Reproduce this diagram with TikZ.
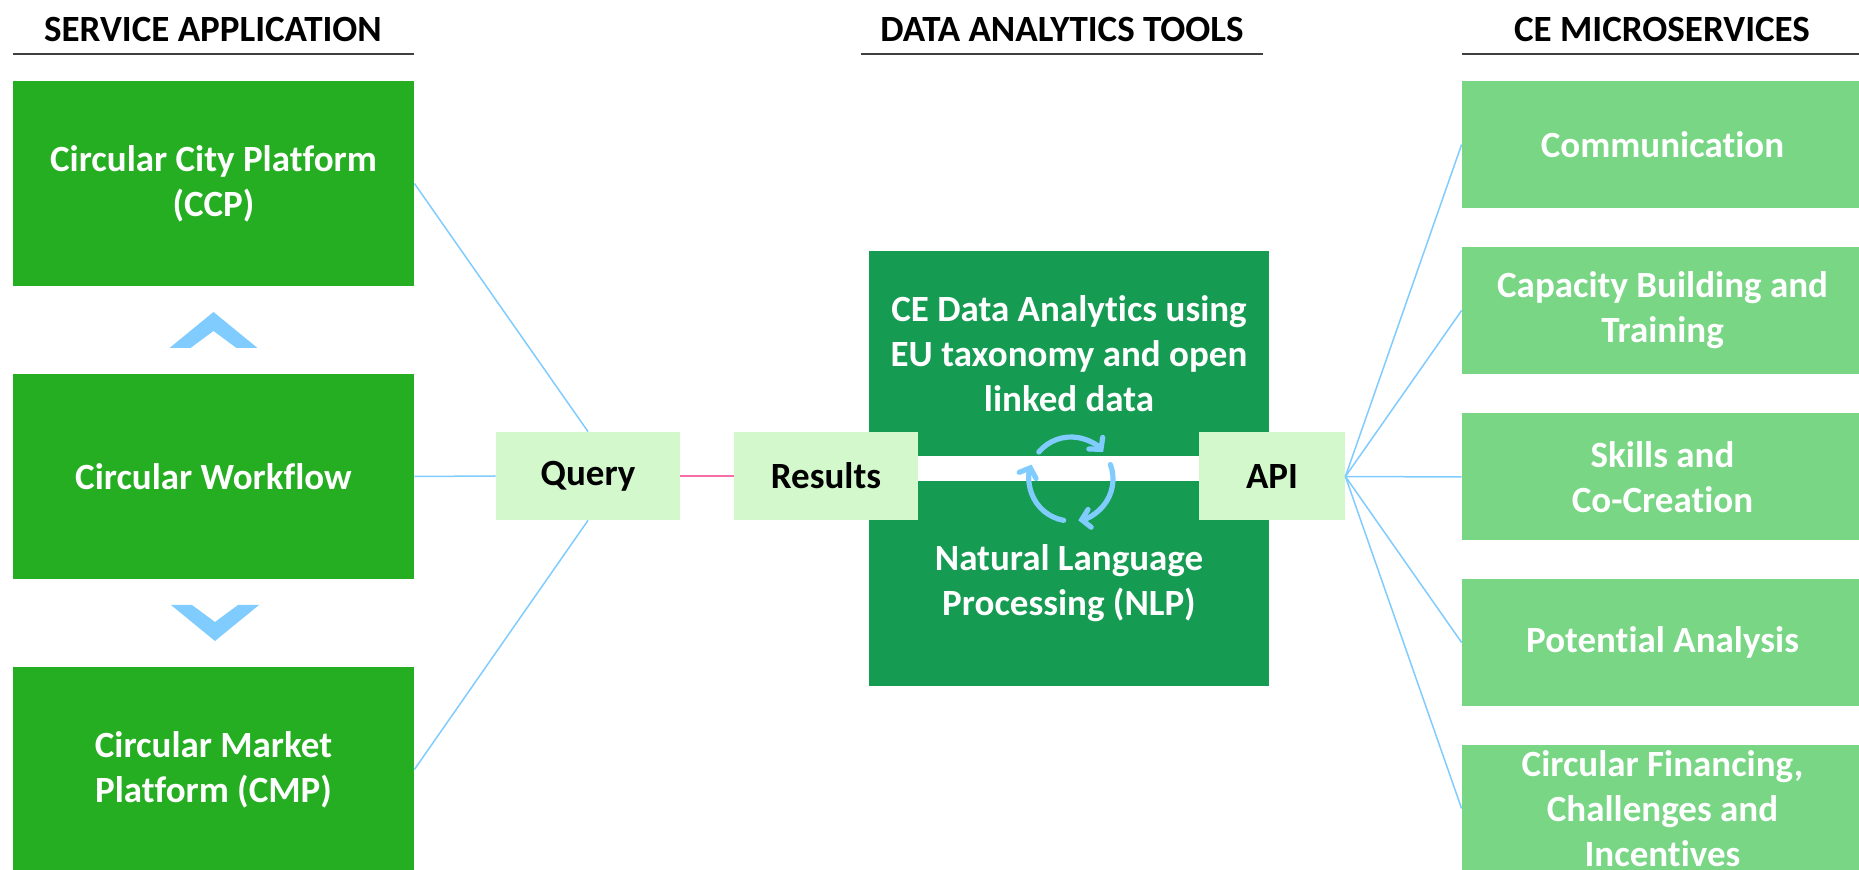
\documentclass[tikz,border=0pt]{standalone}
\usepackage{fontspec}
\setmainfont{Carlito}[Ligatures=NoCommon]
\usetikzlibrary{arrows.meta}
\definecolor{appgreen}{RGB}{37,174,34}
\definecolor{toolgreen}{RGB}{22,155,83}
\definecolor{msgreen}{RGB}{120,214,133}
\definecolor{tagfill}{RGB}{211,248,204}
\definecolor{linkblue}{RGB}{128,204,255}
\definecolor{linkpink}{RGB}{245,110,170}
\definecolor{rulegray}{RGB}{64,64,64}
\newcommand{\boxfont}{\bfseries\fontsize{18.5}{22.5}\selectfont}
\newcommand{\drawchevron}[3] {
  % #1 = tip x, #2 = tip y, #3 = +1 up / -1 down
  \fill[linkblue] (#1-44,#2+36*#3) -- (#1,#2) -- (#1+44,#2+36*#3)
    -- (#1+23,#2+36*#3) -- (#1,#2+19*#3) -- (#1-23,#2+36*#3) -- cycle;
}
\begin{document}
\begin{tikzpicture}[x=0.5pt, y=-0.5pt,
  box/.style={inner sep=0pt, align=center, font=\boxfont, text=white},
  appbox/.style={box, fill=appgreen, minimum width=200.5pt, minimum height=102.5pt},
  toolbox/.style={box, fill=toolgreen, minimum width=200pt, minimum height=102.5pt},
  msbox/.style={box, fill=msgreen, minimum width=200.5pt, minimum height=63.5pt},
  tag/.style={box, fill=tagfill, text=black, minimum height=44pt},
  head/.style={inner sep=0pt, anchor=base, font=\boxfont},
  headrule/.style={rulegray, line width=1pt},
  link/.style={linkblue, line width=0.75pt},
  cycarrow/.style={linkblue, line width=2.6pt, line cap=round,
    -{Straight Barb[length=4pt, width=9pt, line cap=round]}},
]
  \useasboundingbox (0,0) rectangle (1859,870);

  % headings
  \node[head] (hdapp) at (213,42) {SERVICE APPLICATION};
  \node[head] (hdtool) at (1062,42) {DATA ANALYTICS TOOLS};
  \node[head] (hdms) at (1662,42) {CE MICROSERVICES};
  \draw[headrule] (13,54) -- (414,54);
  \draw[headrule] (861,54) -- (1263,54);
  \draw[headrule] (1462,54) -- (1863,54);

  % service application
  \node[appbox] (ccp) at (213.5,183.5) {Circular City Platform\\(CCP)};
  \node[appbox] (flow) at (213.5,476.5) {Circular Workflow};
  \node[appbox] (cmp) at (213.5,769.5) {Circular Market\\Platform (CMP)};
  \drawchevron{213.5}{312}{1}
  \drawchevron{215}{641}{-1}

  % data analytics tools
  \node[toolbox] (ceda) at (1069,353.5) {CE Data Analytics using\\EU taxonomy and open\\linked data};
  \node[toolbox] (nlp) at (1069,583.5) {Natural Language\\Processing (NLP)};
  \node[tag, minimum width=92pt] (query) at (588,476) {Query};
  \node[tag, minimum width=92pt] (results) at (826,476) {Results};
  \node[tag, minimum width=73pt] (api) at (1272,476.5) {API};

  \coordinate (cyc) at (1071,479);
  \foreach \a in {140,20,-100}
    \draw[cycarrow] ([shift={(\a:21pt)}]cyc) arc[start angle=\a, end angle=\a-100, radius=21pt];

  % microservices
  \foreach \name/\y/\txt in {comm/144.5/{Communication},
      capa/310.5/{Capacity Building and\\Training},
      skil/477/{Skills and\\Co-Creation},
      pote/642.5/{Potential Analysis},
      fina/808.5/{Circular Financing,\\Challenges and\\Incentives}}
    \node[msbox] (\name) at (1662.5,\y) {\txt};

  % links
  \draw[link] (ccp.east) -- (query.north);
  \draw[link] (flow.east) -- (query.west);
  \draw[link] (cmp.east) -- (query.south);
  \draw[linkpink, line width=0.6pt] (query.east) -- (results.west);
  \foreach \name in {comm,capa,skil,pote,fina}
    \draw[link] (api.east) -- (\name.west);
\end{tikzpicture}
\end{document}
